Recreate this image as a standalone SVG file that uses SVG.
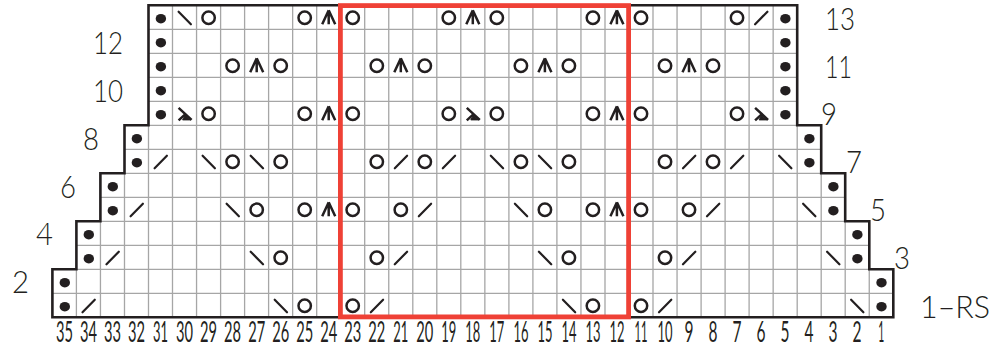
<svg xmlns="http://www.w3.org/2000/svg" width="1005" height="344" viewBox="0 0 1005 344">
<style>
.grid{fill:none;stroke:#a6a6a6;stroke-width:1.3}
.edge{fill:none;stroke:#231f20;stroke-width:2.6}
.frame{fill:none;stroke:#ef4136;stroke-width:4.8}
.sym{fill:none;stroke:#231f20;stroke-width:2.2;stroke-linecap:round}
.ring{fill:none;stroke:#231f20;stroke-width:2.5}
.dec{fill:none;stroke:#231f20;stroke-width:2.5}
.wedge{fill:#231f20;stroke:#231f20;stroke-width:1}
.lab{font-family:"Lato","Liberation Sans",sans-serif;font-weight:300;font-size:31.5px;fill:#231f20}
.num{font-family:"Lato","Liberation Sans",sans-serif;font-weight:400;font-size:28px;fill:#231f20;text-anchor:middle}
</style>
<defs>
<ellipse id="d" cx="0.3" cy="1.4" rx="5.2" ry="4.8" fill="#231f20"/>
<circle id="o" cx="0" cy="0.5" r="6.2" class="ring"/>
<path id="l" d="M-6 7L6.3-5.6" class="sym"/>
<path id="r" d="M-6-5.6L6.3 7" class="sym"/>
<path id="a" d="M0-7V7M0-7L-6.5 7M0-7L6.5 7" class="dec"/>
<g id="y"><path d="M-6-5.5L7 6.5M-6 7L0.5 1" class="dec"/><path d="M0.5 2L6 6.6H-2Z" class="wedge"/></g>
</defs>
<path class="grid" d="M52.4 293.3H893.3M76.4 269.3H869.3M76.4 245.3H869.3M100.4 221.3H845.2M100.4 197.3H845.2M124.5 173.3H821.2M124.5 149.3H821.2M124.5 125.3H821.2M148.5 101.3H797.2M148.5 77.3H797.2M148.5 53.3H797.2M148.5 29.3H797.2"/>
<path class="grid" d="M76.4 269.3V317.3M100.45 221.3V317.3M124.5 173.3V317.3M148.5 125.3V317.3M172.5 5.3V317.3M196.55 5.3V317.3M220.6 5.3V317.3M244.6 5.3V317.3M268.6 5.3V317.3M292.65 5.3V317.3M316.7 5.3V317.3M340.7 5.3V317.3M364.7 5.3V317.3M388.75 5.3V317.3M412.8 5.3V317.3M436.8 5.3V317.3M460.8 5.3V317.3M484.85 5.3V317.3M508.9 5.3V317.3M532.9 5.3V317.3M556.9 5.3V317.3M580.95 5.3V317.3M605 5.3V317.3M629 5.3V317.3M653 5.3V317.3M677.05 5.3V317.3M701.1 5.3V317.3M725.1 5.3V317.3M749.1 5.3V317.3M773.15 5.3V317.3M797.2 125.3V317.3M821.2 173.3V317.3M845.2 221.3V317.3M869.25 269.3V317.3"/>
<path class="edge" d="M148.5 5.3H797.2V125.3H821.2V173.3H845.2V221.3H869.3V269.3H893.3V317.3H52.4V269.3H76.4V221.3H100.4V173.3H124.5V125.3H148.5Z"/>
<g id="row13">
<use href="#d" x="160.6" y="17.3"/><use href="#r" x="184.6" y="17.3"/><use href="#o" x="208.6" y="17.3"/><use href="#o" x="304.7" y="17.3"/><use href="#a" x="328.7" y="17.3"/><use href="#o" x="352.7" y="17.3"/><use href="#o" x="448.8" y="17.3"/><use href="#a" x="472.8" y="17.3"/><use href="#o" x="496.8" y="17.3"/><use href="#o" x="592.9" y="17.3"/><use href="#a" x="616.9" y="17.3"/><use href="#o" x="641" y="17.3"/><use href="#o" x="737" y="17.3"/><use href="#l" x="761.1" y="17.3"/><use href="#d" x="785.1" y="17.3"/>
</g>
<g id="row12"><use href="#d" x="160.6" y="41.3"/><use href="#d" x="785.1" y="41.3"/></g>
<g id="row11">
<use href="#d" x="160.6" y="65.3"/><use href="#o" x="232.6" y="65.3"/><use href="#a" x="256.7" y="65.3"/><use href="#o" x="280.7" y="65.3"/><use href="#o" x="376.8" y="65.3"/><use href="#a" x="400.8" y="65.3"/><use href="#o" x="424.8" y="65.3"/><use href="#o" x="520.9" y="65.3"/><use href="#a" x="544.9" y="65.3"/><use href="#o" x="568.9" y="65.3"/><use href="#o" x="665" y="65.3"/><use href="#a" x="689" y="65.3"/><use href="#o" x="713" y="65.3"/><use href="#d" x="785.1" y="65.3"/>
</g>
<g id="row10"><use href="#d" x="160.6" y="89.3"/><use href="#d" x="785.1" y="89.3"/></g>
<g id="row9">
<use href="#d" x="160.6" y="113.3"/><use href="#y" x="184.6" y="113.3"/><use href="#o" x="208.6" y="113.3"/><use href="#o" x="304.7" y="113.3"/><use href="#a" x="328.7" y="113.3"/><use href="#o" x="352.7" y="113.3"/><use href="#o" x="448.8" y="113.3"/><use href="#y" x="472.8" y="113.3"/><use href="#o" x="496.8" y="113.3"/><use href="#o" x="592.9" y="113.3"/><use href="#a" x="616.9" y="113.3"/><use href="#o" x="641" y="113.3"/><use href="#o" x="737" y="113.3"/><use href="#y" x="761.1" y="113.3"/><use href="#d" x="785.1" y="113.3"/>
</g>
<g id="row8"><use href="#d" x="136.6" y="137.3"/><use href="#d" x="809.1" y="137.3"/></g>
<g id="row7">
<use href="#d" x="136.6" y="161.3"/><use href="#l" x="160.6" y="161.3"/><use href="#r" x="208.6" y="161.3"/><use href="#o" x="232.6" y="161.3"/><use href="#r" x="256.7" y="161.3"/><use href="#o" x="280.7" y="161.3"/><use href="#o" x="376.8" y="161.3"/><use href="#l" x="400.8" y="161.3"/><use href="#o" x="424.8" y="161.3"/><use href="#l" x="448.8" y="161.3"/><use href="#r" x="496.8" y="161.3"/><use href="#o" x="520.9" y="161.3"/><use href="#r" x="544.9" y="161.3"/><use href="#o" x="568.9" y="161.3"/><use href="#o" x="665" y="161.3"/><use href="#l" x="689" y="161.3"/><use href="#o" x="713" y="161.3"/><use href="#l" x="737" y="161.3"/><use href="#r" x="785.1" y="161.3"/><use href="#d" x="809.1" y="161.3"/>
</g>
<g id="row6"><use href="#d" x="112.5" y="185.3"/><use href="#d" x="833.1" y="185.3"/></g>
<g id="row5">
<use href="#d" x="112.5" y="209.3"/><use href="#l" x="136.6" y="209.3"/><use href="#r" x="232.6" y="209.3"/><use href="#o" x="256.7" y="209.3"/><use href="#o" x="304.7" y="209.3"/><use href="#a" x="328.7" y="209.3"/><use href="#o" x="352.7" y="209.3"/><use href="#o" x="400.8" y="209.3"/><use href="#l" x="424.8" y="209.3"/><use href="#r" x="520.9" y="209.3"/><use href="#o" x="544.9" y="209.3"/><use href="#o" x="592.9" y="209.3"/><use href="#a" x="616.9" y="209.3"/><use href="#o" x="641" y="209.3"/><use href="#o" x="689" y="209.3"/><use href="#l" x="713" y="209.3"/><use href="#r" x="809.1" y="209.3"/><use href="#d" x="833.1" y="209.3"/>
</g>
<g id="row4"><use href="#d" x="88.5" y="233.3"/><use href="#d" x="857.1" y="233.3"/></g>
<g id="row3">
<use href="#d" x="88.5" y="257.3"/><use href="#l" x="112.5" y="257.3"/><use href="#r" x="256.7" y="257.3"/><use href="#o" x="280.7" y="257.3"/><use href="#o" x="376.8" y="257.3"/><use href="#l" x="400.8" y="257.3"/><use href="#r" x="544.9" y="257.3"/><use href="#o" x="568.9" y="257.3"/><use href="#o" x="665" y="257.3"/><use href="#l" x="689" y="257.3"/><use href="#r" x="833.1" y="257.3"/><use href="#d" x="857.1" y="257.3"/>
</g>
<g id="row2"><use href="#d" x="64.5" y="281.3"/><use href="#d" x="881.2" y="281.3"/></g>
<g id="row1">
<use href="#d" x="64.5" y="305.3"/><use href="#l" x="88.5" y="305.3"/><use href="#r" x="280.7" y="305.3"/><use href="#o" x="304.7" y="305.3"/><use href="#o" x="352.7" y="305.3"/><use href="#l" x="376.8" y="305.3"/><use href="#r" x="568.9" y="305.3"/><use href="#o" x="592.9" y="305.3"/><use href="#o" x="641" y="305.3"/><use href="#l" x="665" y="305.3"/><use href="#r" x="857.1" y="305.3"/><use href="#d" x="881.2" y="305.3"/>
</g>
<rect class="frame" x="340.4" y="5.6" width="288.2" height="311.3"/>
<g id="row-labels" class="lab">
<text x="93" y="54" textLength="30" lengthAdjust="spacingAndGlyphs">12</text>
<text x="93" y="102" textLength="30" lengthAdjust="spacingAndGlyphs">10</text>
<text x="83" y="150" textLength="16" lengthAdjust="spacingAndGlyphs">8</text>
<text x="60" y="198" textLength="16" lengthAdjust="spacingAndGlyphs">6</text>
<text x="36" y="245" textLength="17" lengthAdjust="spacingAndGlyphs">4</text>
<text x="12" y="293" textLength="17" lengthAdjust="spacingAndGlyphs">2</text>
<text x="825" y="29.5" textLength="30" lengthAdjust="spacingAndGlyphs">13</text>
<text x="825" y="77.5" textLength="27" lengthAdjust="spacingAndGlyphs">11</text>
<text x="821" y="125" textLength="16" lengthAdjust="spacingAndGlyphs">9</text>
<text x="846" y="173" textLength="16" lengthAdjust="spacingAndGlyphs">7</text>
<text x="870" y="221" textLength="16" lengthAdjust="spacingAndGlyphs">5</text>
<text x="894" y="269" textLength="16" lengthAdjust="spacingAndGlyphs">3</text>
<text x="920" y="318" textLength="70" lengthAdjust="spacingAndGlyphs">1–RS</text>
</g>
<g id="column-numbers" class="num">
<text x="64.5" y="342" textLength="17" lengthAdjust="spacingAndGlyphs">35</text>
<text x="88.5" y="342" textLength="17" lengthAdjust="spacingAndGlyphs">34</text>
<text x="112.5" y="342" textLength="17" lengthAdjust="spacingAndGlyphs">33</text>
<text x="136.6" y="342" textLength="17" lengthAdjust="spacingAndGlyphs">32</text>
<text x="160.6" y="342" textLength="15" lengthAdjust="spacingAndGlyphs">31</text>
<text x="184.6" y="342" textLength="17" lengthAdjust="spacingAndGlyphs">30</text>
<text x="208.6" y="342" textLength="17" lengthAdjust="spacingAndGlyphs">29</text>
<text x="232.6" y="342" textLength="17" lengthAdjust="spacingAndGlyphs">28</text>
<text x="256.7" y="342" textLength="17" lengthAdjust="spacingAndGlyphs">27</text>
<text x="280.7" y="342" textLength="17" lengthAdjust="spacingAndGlyphs">26</text>
<text x="304.7" y="342" textLength="17" lengthAdjust="spacingAndGlyphs">25</text>
<text x="328.7" y="342" textLength="17" lengthAdjust="spacingAndGlyphs">24</text>
<text x="352.7" y="342" textLength="17" lengthAdjust="spacingAndGlyphs">23</text>
<text x="376.8" y="342" textLength="17" lengthAdjust="spacingAndGlyphs">22</text>
<text x="400.8" y="342" textLength="15" lengthAdjust="spacingAndGlyphs">21</text>
<text x="424.8" y="342" textLength="17" lengthAdjust="spacingAndGlyphs">20</text>
<text x="448.8" y="342" textLength="15" lengthAdjust="spacingAndGlyphs">19</text>
<text x="472.8" y="342" textLength="15" lengthAdjust="spacingAndGlyphs">18</text>
<text x="496.8" y="342" textLength="15" lengthAdjust="spacingAndGlyphs">17</text>
<text x="520.9" y="342" textLength="15" lengthAdjust="spacingAndGlyphs">16</text>
<text x="544.9" y="342" textLength="15" lengthAdjust="spacingAndGlyphs">15</text>
<text x="568.9" y="342" textLength="15" lengthAdjust="spacingAndGlyphs">14</text>
<text x="592.9" y="342" textLength="15" lengthAdjust="spacingAndGlyphs">13</text>
<text x="616.9" y="342" textLength="15" lengthAdjust="spacingAndGlyphs">12</text>
<text x="641" y="342" textLength="13" lengthAdjust="spacingAndGlyphs">11</text>
<text x="665" y="342" textLength="15" lengthAdjust="spacingAndGlyphs">10</text>
<text x="689" y="342" textLength="9" lengthAdjust="spacingAndGlyphs">9</text>
<text x="713" y="342" textLength="9" lengthAdjust="spacingAndGlyphs">8</text>
<text x="737" y="342" textLength="9" lengthAdjust="spacingAndGlyphs">7</text>
<text x="761.1" y="342" textLength="9" lengthAdjust="spacingAndGlyphs">6</text>
<text x="785.1" y="342" textLength="9" lengthAdjust="spacingAndGlyphs">5</text>
<text x="809.1" y="342" textLength="9" lengthAdjust="spacingAndGlyphs">4</text>
<text x="833.1" y="342" textLength="9" lengthAdjust="spacingAndGlyphs">3</text>
<text x="857.1" y="342" textLength="9" lengthAdjust="spacingAndGlyphs">2</text>
<text x="881.2" y="342" textLength="6" lengthAdjust="spacingAndGlyphs">1</text>
</g>
</svg>
